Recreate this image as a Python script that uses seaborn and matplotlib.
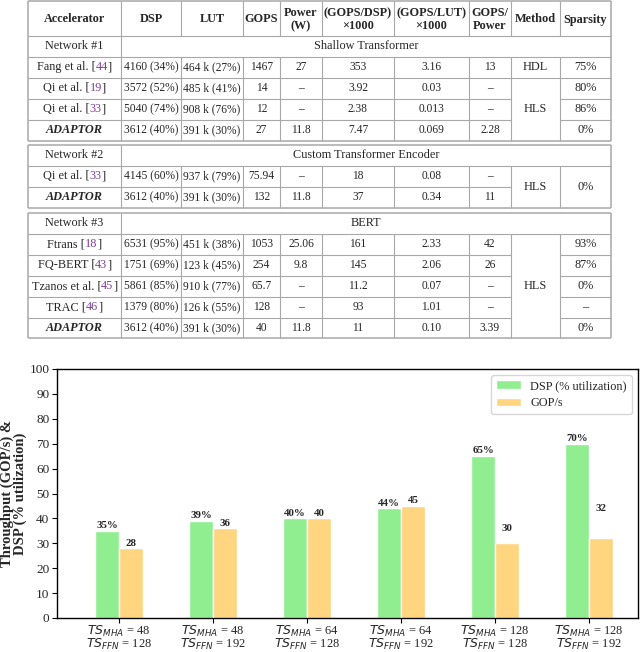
import numpy as np
import pandas as pd
import seaborn as sns
import matplotlib
matplotlib.use("Agg")
import matplotlib.pyplot as plt

# ---------------- data ----------------
col_headers = ["Accelerator", "DSP", "LUT", "GOPS", "Power\n(W)", "(GOPS/DSP)\n×1000",
               "(GOPS/LUT)\n×1000", "GOPS/\nPower", "Method", "Sparsity"]
network_ids = ["Network #1", "Network #2", "Network #3"]
network_names = ["Shallow Transformer", "Custom Transformer Encoder", "BERT"]

accel_1 = [("Fang et al.", "44"), ("Qi et al.", "19"), ("Qi et al.", "33"), ("ADAPTOR", None)]
rows_1 = [
    ["4160 (34%)", "464 k (27%)", "1467", "27", "353", "3.16", "13", "HDL", "75%"],
    ["3572 (52%)", "485 k (41%)", "14", "–", "3.92", "0.03", "–", "HLS", "80%"],
    ["5040 (74%)", "908 k (76%)", "12", "–", "2.38", "0.013", "–", None, "86%"],
    ["3612 (40%)", "391 k (30%)", "27", "11.8", "7.47", "0.069", "2.28", None, "0%"],
]
accel_2 = [("Qi et al.", "33"), ("ADAPTOR", None)]
rows_2 = [
    ["4145 (60%)", "937 k (79%)", "75.94", "–", "18", "0.08", "–", "HLS", "0%"],
    ["3612 (40%)", "391 k (30%)", "132", "11.8", "37", "0.34", "11", None, None],
]
accel_3 = [("Ftrans", "18"), ("FQ-BERT", "43"), ("Tzanos et al.", "45"), ("TRAC", "46"), ("ADAPTOR", None)]
rows_3 = [
    ["6531 (95%)", "451 k (38%)", "1053", "25.06", "161", "2.33", "42", "HLS", "93%"],
    ["1751 (69%)", "123 k (45%)", "254", "9.8", "145", "2.06", "26", None, "87%"],
    ["5861 (85%)", "910 k (77%)", "65.7", "–", "11.2", "0.07", "–", None, "0%"],
    ["1379 (80%)", "126 k (55%)", "128", "–", "93", "1.01", "–", None, "–"],
    ["3612 (40%)", "391 k (30%)", "40", "11.8", "11", "0.10", "3.39", None, "0%"],
]

configs = ["$TS_{MHA}$ = 48\n$TS_{FFN}$ = 128", "$TS_{MHA}$ = 48\n$TS_{FFN}$ = 192",
           "$TS_{MHA}$ = 64\n$TS_{FFN}$ = 128", "$TS_{MHA}$ = 64\n$TS_{FFN}$ = 192",
           "$TS_{MHA}$ = 128\n$TS_{FFN}$ = 128", "$TS_{MHA}$ = 128\n$TS_{FFN}$ = 192"]
dsp_util = [35, 39, 40, 44, 65, 70]
gops = [28, 36, 40, 45, 30, 32]
gops_label_lift = [0, 0, 0, 0, 4, 10]

# ---------------- style ----------------
sns.set_theme(style="white")
plt.rcParams["font.family"] = ["Liberation Serif", "DejaVu Serif"]
plt.rcParams["mathtext.fontset"] = "dejavusans"

fig = plt.figure(figsize=(6.4, 6.52), dpi=100)

# ---------------- table ----------------
tax = fig.add_axes([0, 0, 1, 1])
tax.set_xlim(0, 640)
tax.set_ylim(652, 0)
tax.axis("off")

col_x = [28, 121, 181, 243, 280, 322, 394, 469, 511, 560, 611]
line_c = "#a8a8a8"
purple = "#7F3F98"
fs = 8.8
fs_num = 8.3
renderer = fig.canvas.get_renderer()


def hline(y, x0, x1, lw=0.8):
    tax.plot([x0, x1], [y, y], color=line_c, lw=lw, solid_capstyle="butt")


def vline(x, y0, y1, lw=0.8):
    tax.plot([x, x], [y0, y1], color=line_c, lw=lw, solid_capstyle="butt")


def text_width(s):
    t = tax.text(0, 0, s, fontsize=fs)
    w = t.get_window_extent(renderer).width
    t.remove()
    return w


def draw_name(xc, yc, name, ref):
    if ref is None:
        tax.text(xc, yc, name, ha="center", va="center", fontsize=fs,
                 fontweight="bold", fontstyle="italic")
        return
    p1 = f"{name} ["
    p2 = f"{name} [{ref}"
    W = text_width(p2 + "]")
    x0 = xc - W / 2
    w1 = text_width(p1 + "x") - text_width("x")
    w2 = text_width(p2 + "x") - text_width("x")
    tax.text(x0, yc, p1, ha="left", va="center", fontsize=fs)
    tax.text(x0 + w1, yc, ref, ha="left", va="center", fontsize=fs, color=purple)
    tax.text(x0 + w2, yc, "]", ha="left", va="center", fontsize=fs)


def draw_block(top, net_id, net_name, accels, rows, with_header):
    y = top
    rh = 20.9
    if with_header:
        hh = 35
        for c, h in enumerate(col_headers):
            tax.text((col_x[c] + col_x[c + 1]) / 2, y + hh / 2 + 1, h, ha="center",
                     va="center", fontsize=fs, fontweight="bold", linespacing=1.15)
        for x in col_x[1:-1]:
            vline(x, y, y + hh)
        y += hh
        hline(y, col_x[0], col_x[-1])
    tax.text((col_x[0] + col_x[1]) / 2, y + rh / 2, net_id, ha="center", va="center", fontsize=fs)
    tax.text((col_x[1] + col_x[-1]) / 2, y + rh / 2, net_name, ha="center", va="center", fontsize=fs)
    vline(col_x[1], y, y + rh)
    y += rh
    hline(y, col_x[0], col_x[-1])
    row_tops = [y + r * rh for r in range(len(rows))]
    bottom = y + len(rows) * rh
    for x in col_x[1:-1]:
        vline(x, y, bottom)
    for r, (acc, row) in enumerate(zip(accels, rows)):
        yt = row_tops[r]
        draw_name((col_x[0] + col_x[1]) / 2, yt + rh / 2, acc[0], acc[1])
        for c, val in enumerate(row):
            ci = c + 1
            if val is None:
                continue
            span = 1
            while r + span < len(rows) and rows[r + span][c] is None:
                span += 1
            size = fs if c >= 7 else fs_num
            tax.text((col_x[ci] + col_x[ci + 1]) / 2, yt + span * rh / 2, val,
                     ha="center", va="center", fontsize=size)
        if r < len(rows) - 1:
            yb = yt + rh
            hline(yb, col_x[0], col_x[1])
            for c in range(len(row)):
                if rows[r + 1][c] is None:
                    continue
                hline(yb, col_x[c + 1], col_x[c + 2])
    lw = 1.1
    hline(top, col_x[0], col_x[-1], lw)
    hline(bottom, col_x[0], col_x[-1], lw)
    vline(col_x[0], top, bottom, lw)
    vline(col_x[-1], top, bottom, lw)


draw_block(1, network_ids[0], network_names[0], accel_1, rows_1, True)
draw_block(145, network_ids[1], network_names[1], accel_2, rows_2, False)
draw_block(213, network_ids[2], network_names[2], accel_3, rows_3, False)

# ---------------- bar chart ----------------
ax = fig.add_axes([57 / 640, 1 - 618 / 652, 581 / 640, 249 / 652])
df = pd.DataFrame({
    "config": configs * 2,
    "value": dsp_util + gops,
    "metric": ["DSP (% utilization)"] * len(configs) + ["GOP/s"] * len(configs),
})
green = "#90EE90"
orange = "#FFD580"
sns.barplot(data=df, x="config", y="value", hue="metric", order=configs,
            palette=[green, orange], width=0.51, saturation=1, ax=ax, legend=True)

ax.set_xlim(-0.66, 5.52)
ax.set_ylim(0, 100)
ax.set_yticks(np.arange(0, 101, 10))
ax.set_xlabel("")
ax.set_ylabel("Throughput (GOP/s) &\nDSP (% utilization)", fontsize=10.5,
              fontweight="bold", linespacing=0.95)
ax.yaxis.set_label_coords(-0.052, 0.5)
ax.tick_params(axis="y", labelsize=9.5, length=3.5, width=0.8, color="black",
               left=True, pad=2)
ax.tick_params(axis="x", labelsize=9.0, length=3.5, width=0.8, color="black",
               bottom=True, pad=0.5)
for lab in ax.get_xticklabels():
    lab.set_linespacing(0.88)
for s in ax.spines.values():
    s.set_visible(True)
    s.set_color("black")
    s.set_linewidth(1.0)

dsp_bars = ax.containers[0]
gop_bars = ax.containers[1]
ax.bar_label(dsp_bars, labels=[f"{v}%" for v in dsp_util], padding=0.5,
             fontsize=7.8, fontweight="bold")
for bar, v, lift in zip(gop_bars, gops, gops_label_lift):
    ax.text(bar.get_x() + bar.get_width() / 2, v + 0.3 + lift, f"{v}",
            ha="center", va="bottom", fontsize=7.8, fontweight="bold")

handles, labels = ax.get_legend_handles_labels()
ax.legend(handles, labels, loc="upper right", fontsize=8.8, title=None,
          frameon=True, borderpad=0.4, labelspacing=0.45, handletextpad=0.8)

fig.savefig("out.png", dpi=100)
